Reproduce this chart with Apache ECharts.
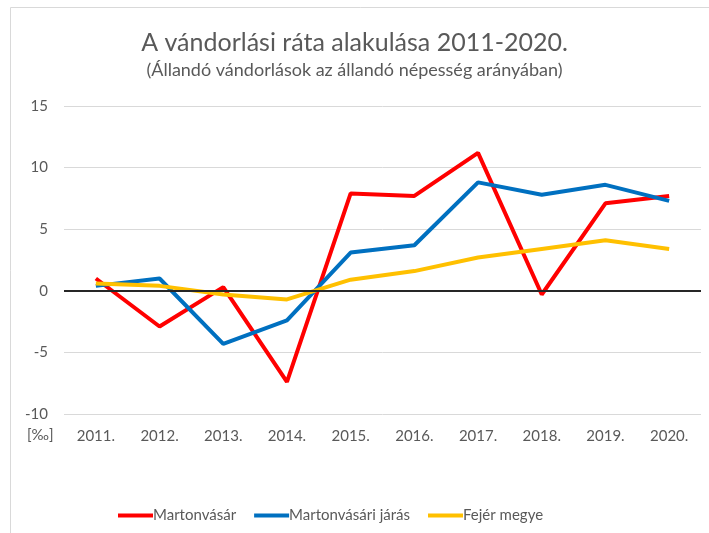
<!DOCTYPE html>
<html>
<head>
<meta charset="utf-8">
<script src="https://cdn.jsdelivr.net/npm/echarts@6/dist/echarts.min.js"></script>
<style>
  html, body { margin: 0; padding: 0; background: #fff; }
  #chart { width: 709px; height: 533px; }
</style>
</head>
<body>
<div id="chart"></div>
<script>
// évek
const years = ['2011.', '2012.', '2013.', '2014.', '2015.', '2016.', '2017.', '2018.', '2019.', '2020.'];
// vándorlási ráta [‰]
const martonvasar = [1.0, -2.9, 0.3, -7.4, 7.9, 7.7, 11.2, -0.3, 7.1, 7.7];
const jaras = [0.4, 1.0, -4.3, -2.4, 3.1, 3.7, 8.8, 7.8, 8.6, 7.3];
const fejer = [0.6, 0.4, -0.3, -0.7, 0.9, 1.6, 2.7, 3.4, 4.1, 3.4];
const seriesNames = ['Martonvásár', 'Martonvásári járás', 'Fejér megye'];

const font = 'Lato, "Liberation Sans", sans-serif';
const gray = '#595959';

let chart = echarts.init(document.getElementById('chart'));

function lineSeries(name, data, color) {
    return {
        name: name,
        type: 'line',
        data: data,
        symbol: 'none',
        lineStyle: { color: color, width: 4 },
        itemStyle: { color: color }
    };
}

let series = [
    lineSeries(seriesNames[0], martonvasar, '#FF0000'),
    lineSeries(seriesNames[1], jaras, '#0070C0'),
    lineSeries(seriesNames[2], fejer, '#FFC000')
];
// zero line (Excel draws the category axis at 0)
series[0].markLine = {
    silent: true,
    symbol: 'none',
    label: { show: false },
    lineStyle: { color: '#262626', width: 2, type: 'solid' },
    data: [{ yAxis: 0 }]
};

chart.setOption({
    animation: false,
    textStyle: { fontFamily: font },
    title: {
        text: 'A vándorlási ráta alakulása 2011-2020.',
        subtext: '(Állandó vándorlások az állandó népesség arányában)',
        left: 'center',
        top: 25,
        itemGap: 6,
        textStyle: { fontFamily: font, fontSize: 25, fontWeight: 'normal', color: gray },
        subtextStyle: { fontFamily: font, fontSize: 18, color: gray }
    },
    graphic: [{
        type: 'rect',
        shape: { x: 10.5, y: 7.5, width: 720, height: 540 },
        style: { fill: 'none', stroke: '#d9d9d9', lineWidth: 1 },
        silent: true
    }, {
        type: 'text',
        left: 27,
        top: 428,
        style: { text: '[‰]', fill: gray, font: '15px ' + font }
    }],
    legend: {
        left: 113,
        top: 503,
        icon: 'rect',
        itemWidth: 35,
        itemHeight: 4,
        itemGap: 18,
        textStyle: { fontFamily: font, fontSize: 15, color: gray, padding: [0, 0, 0, -5] },
        data: seriesNames
    },
    grid: { left: 64, right: 8, top: 106, bottom: 119, containLabel: false },
    xAxis: {
        type: 'category',
        data: years,
        boundaryGap: true,
        axisLine: { show: false, onZero: false },
        axisTick: { show: false },
        axisLabel: { color: gray, fontSize: 15, margin: 15, fontFamily: font }
    },
    yAxis: {
        type: 'value',
        min: -10,
        max: 15,
        interval: 5,
        axisLine: { show: false },
        axisTick: { show: false },
        axisLabel: { color: gray, fontSize: 15, margin: 16, fontFamily: font },
        splitLine: { lineStyle: { color: '#d9d9d9', width: 1 } }
    },
    series: series
});
</script>
</body>
</html>
